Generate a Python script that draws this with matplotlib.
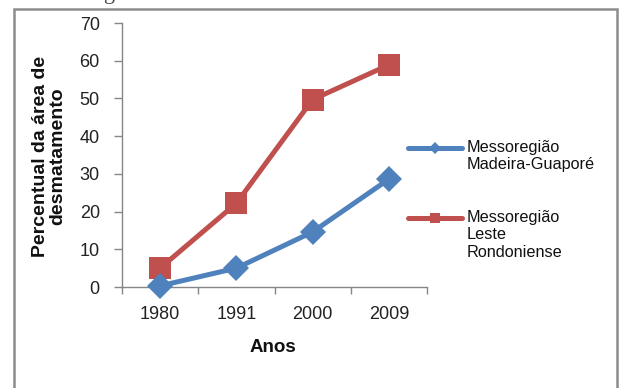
import matplotlib
matplotlib.use("Agg")
import matplotlib.pyplot as plt
from matplotlib.lines import Line2D
from matplotlib.patches import Rectangle

anos = ["1980", "1991", "2000", "2009"]
madeira_guapore = [0.3, 5.0, 14.6, 28.6]
leste_rondoniense = [5.0, 22.2, 49.7, 58.9]
serie_labels = ["Messoregião\nMadeira-Guaporé", "Messoregião\nLeste\nRondoniense"]
yticks = [0, 10, 20, 30, 40, 50, 60, 70]

plt.rcParams["font.family"] = ["Liberation Sans", "DejaVu Sans"]

W, H = 622, 388
fig = plt.figure(figsize=(W / 100, H / 100), dpi=100)
fig.patch.set_facecolor("white")

def fx(px):
    return px / W

def fy(py):
    return 1 - py / H

# caption line above the frame, partly cut off by the page edge
fig.text(fx(30), fy(-1), "Mesorregião do Estado de Rondônia", family="Liberation Serif",
         fontsize=16, color="#444444", ha="left", va="baseline")

# outer frame around the chart
fig.add_artist(Rectangle((fx(13.5), fy(420)), fx(603), fy(8.5) - fy(420),
                         transform=fig.transFigure, fill=False,
                         edgecolor="#8c8c8c", linewidth=1.8))

ax = fig.add_axes([fx(122), fy(287), fx(427) - fx(122), fy(23) - fy(287)])
x = list(range(len(anos)))

blue = "#4F81BD"
red = "#C0504D"
ax.plot(x, leste_rondoniense, color=red, linewidth=3.6, marker="s", markersize=16,
        markeredgewidth=0, zorder=3)
ax.plot(x, madeira_guapore, color=blue, linewidth=3.6, marker="D", markersize=13,
        markeredgewidth=0, zorder=4, clip_on=False)

ax.set_xlim(-0.5, 3.5)
ax.set_ylim(0, 70)
ax.set_yticks(yticks)
ax.set_xticks([-0.5, 0.5, 1.5, 2.5, 3.5])
ax.set_xticklabels([])
ax.set_xticks(x, minor=True)
ax.set_xticklabels(anos, minor=True)
ax.tick_params(axis="x", which="major", length=5, width=1, color="#868686", direction="out")
ax.tick_params(axis="x", which="minor", length=0, labelsize=13, pad=14, labelcolor="#222222")
ax.tick_params(axis="y", length=6, width=1, color="#868686", labelsize=13, pad=10,
               labelcolor="#222222")
for s in ("top", "right"):
    ax.spines[s].set_visible(False)
for s in ("left", "bottom"):
    ax.spines[s].set_color("#868686")
    ax.spines[s].set_linewidth(1)
ax.set_facecolor("none")

fig.text(fx(273), fy(348), "Anos", fontsize=13.5, fontweight="bold", ha="center",
         va="center", color="#111111")
fig.text(fx(49), fy(156), "Percentual da área de\ndesmatamento", fontsize=14,
         fontweight="bold", ha="center", va="center", rotation=90, color="#111111",
         linespacing=1.05)

# legend keys
def key(y, color, marker, ms):
    fig.add_artist(Line2D([fx(408), fx(462)], [fy(y), fy(y)], transform=fig.transFigure,
                          color=color, linewidth=3.6, solid_capstyle="round"))
    fig.add_artist(Line2D([fx(435)], [fy(y)], transform=fig.transFigure, color=color,
                          marker=marker, markersize=ms, markeredgewidth=0, linestyle="none"))

key(148, blue, "D", 6)
key(218, red, "s", 7)
fig.text(fx(467), fy(140), serie_labels[0], fontsize=11.7, ha="left", va="top",
         color="#111111", linespacing=1.2)
fig.text(fx(467), fy(210), serie_labels[1], fontsize=11.7, ha="left", va="top",
         color="#111111", linespacing=1.2)

fig.savefig("out.png", dpi=100, facecolor="white")
